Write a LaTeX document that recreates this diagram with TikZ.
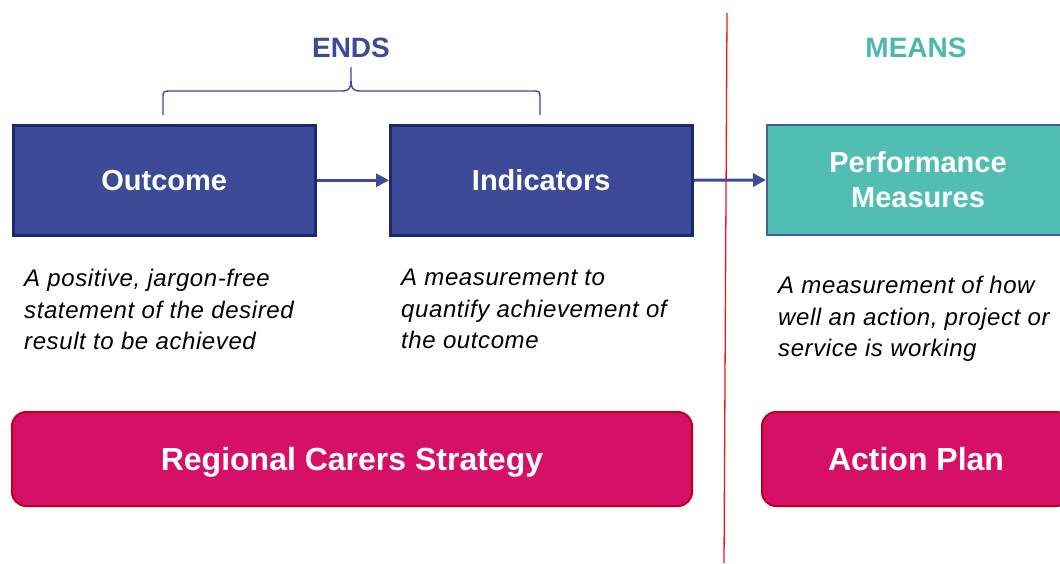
\documentclass[tikz,border=0pt]{standalone}
\usepackage{fontspec}
\setmainfont{Liberation Sans}
\newfontfamily\descfont{Liberation Sans}[LetterSpace=2.5]
\usetikzlibrary{arrows.meta}
\definecolor{navy}{HTML}{3C4A98}
\definecolor{navyd}{HTML}{1A2A6C}
\definecolor{tealf}{HTML}{52BDB3}
\definecolor{tealt}{HTML}{4DB8AE}
\definecolor{tealb}{HTML}{44609E}
\definecolor{magf}{HTML}{D61066}
\definecolor{magb}{HTML}{C00018}
\definecolor{redl}{HTML}{F01818}
\begin{document}
\begin{tikzpicture}[x=1pt,y=-1pt,
  boxtext/.style={text=white, font=\bfseries\fontsize{29}{35}\selectfont, align=center, inner sep=0pt},
  endsbox/.style={boxtext, draw=navyd, line width=2.5pt, fill=navy, minimum width=302pt, minimum height=110pt, anchor=north west},
  meansbox/.style={boxtext, draw=tealb, line width=2pt, fill=tealf, minimum width=302pt, minimum height=110pt, anchor=north west},
  docbox/.style={text=white, font=\bfseries\fontsize{32}{38}\selectfont, draw=magb, line width=2pt, fill=magf, rounded corners=14pt, minimum height=94pt, text height=23pt, text depth=0pt, anchor=north west, inner sep=0pt},
  head/.style={font=\bfseries\fontsize{28}{34}\selectfont, inner sep=0pt},
  desc/.style={font=\descfont\itshape\fontsize{24}{31.5}\selectfont, align=left, anchor=north west, inner sep=0pt},
  arr/.style={draw=navy, line width=3pt, -{Triangle[length=13pt,width=13pt]}},
  bracel/.style={draw=navy, line width=1.4pt},
  divider/.style={draw=redl, line width=1.3pt}
]
\useasboundingbox (0,0) rectangle (1060,563);
\clip (0,0) rectangle (1060,563);

% headings
\node[head, text=navy] (ends) at (351,48) {ENDS};
\node[head, text=tealt] (means) at (916,48) {MEANS};

% brace
\coordinate (bl) at (163,115);
\coordinate (br) at (540,115);
\coordinate (bt) at (351,67);
\draw[bracel] (bl) -- (163,99) .. controls (163,91) .. (171,91) -- (342,91) .. controls (349,91) and (351,88) .. (351,81) -- (bt);
\draw[bracel] (351,81) .. controls (351,88) and (353,91) .. (360,91) -- (532,91) .. controls (540,91) .. (540,99) -- (br);

% divider
\coordinate (dtop) at (727,13);
\coordinate (dbot) at (724,563);
\draw[divider] (dtop) -- (dbot);

% top boxes
\node[endsbox] (out) at (12,124) {Outcome};
\node[endsbox] (ind) at (389,124) {Indicators};
\node[meansbox] (perf) at (766,124) {Performance\\Measures};

\draw[arr] (out.east) -- (ind.west);
\draw[arr] (ind.east) -- (perf.west);

% descriptions
\node[desc] (dout) at (24,269) {A positive, jargon-free\\statement of the desired\\result to be achieved};
\node[desc] (dind) at (401,269) {A measurement to\\quantify achievement of\\the outcome};
\node[desc] (dperf) at (778,276) {A measurement of how\\well an action, project or\\service is working};

% bottom boxes
\node[docbox, minimum width=680pt] (rcs) at (11,411) {Regional Carers Strategy};
\node[docbox, minimum width=308pt] (ap) at (761,411) {Action Plan};
\end{tikzpicture}
\end{document}
